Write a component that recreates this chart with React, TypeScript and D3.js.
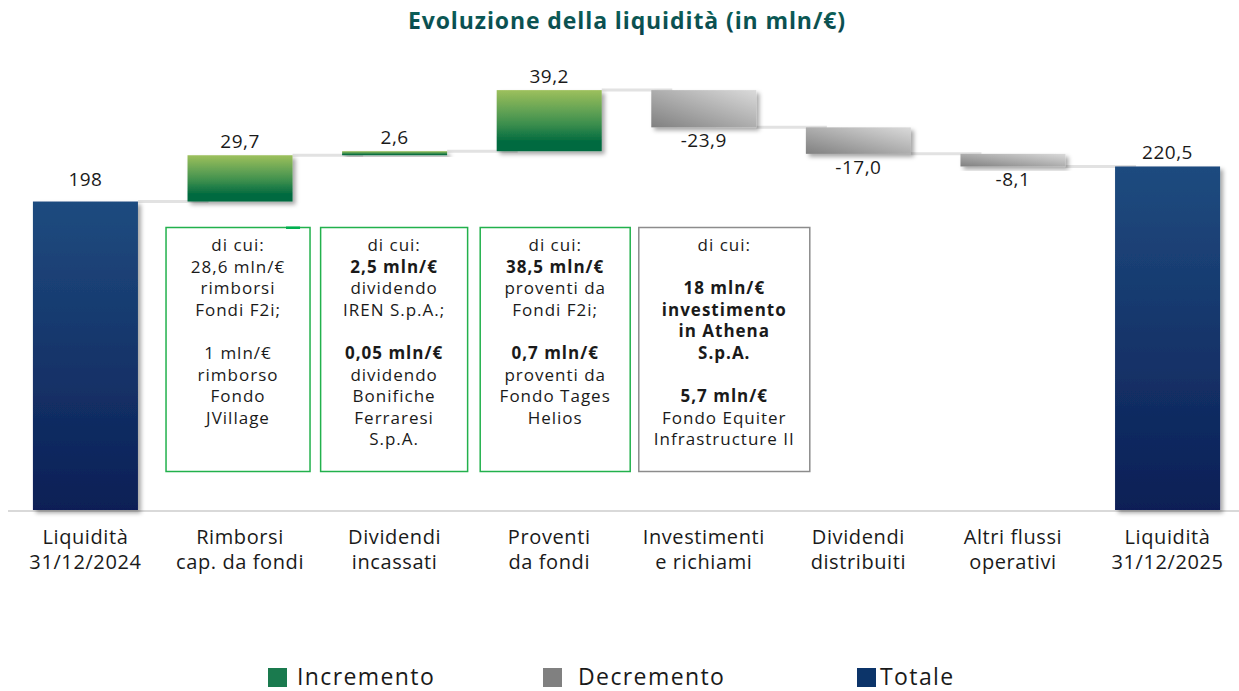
import React from "react";
import * as d3 from "d3";

const categories = [
  ["Liquidità", "31/12/2024"],
  ["Rimborsi", "cap. da fondi"],
  ["Dividendi", "incassati"],
  ["Proventi", "da fondi"],
  ["Investimenti", "e richiami"],
  ["Dividendi", "distribuiti"],
  ["Altri flussi", "operativi"],
  ["Liquidità", "31/12/2025"],
];
const values = [198, 29.7, 2.6, 39.2, -23.9, -17.0, -8.1, 220.5];
const kinds = ["total", "inc", "inc", "inc", "dec", "dec", "dec", "total"];
const valueLabels = ["198", "29,7", "2,6", "39,2", "-23,9", "-17,0", "-8,1", "220,5"];

type Line = { t: string; b?: boolean };
const notes: { idx: number; border: string; lines: Line[] }[] = [
  {
    idx: 1,
    border: "#22b14c",
    lines: [
      { t: "di cui:" }, { t: "28,6 mln/€" }, { t: "rimborsi" }, { t: "Fondi F2i;" }, { t: "" },
      { t: "1 mln/€" }, { t: "rimborso" }, { t: "Fondo" }, { t: "JVillage" },
    ],
  },
  {
    idx: 2,
    border: "#22b14c",
    lines: [
      { t: "di cui:" }, { t: "2,5 mln/€", b: true }, { t: "dividendo" }, { t: "IREN S.p.A.;" }, { t: "" },
      { t: "0,05 mln/€", b: true }, { t: "dividendo" }, { t: "Bonifiche" }, { t: "Ferraresi" }, { t: "S.p.A." },
    ],
  },
  {
    idx: 3,
    border: "#22b14c",
    lines: [
      { t: "di cui:" }, { t: "38,5 mln/€", b: true }, { t: "proventi da" }, { t: "Fondi F2i;" }, { t: "" },
      { t: "0,7 mln/€", b: true }, { t: "proventi da" }, { t: "Fondo Tages" }, { t: "Helios" },
    ],
  },
  {
    idx: 4,
    border: "#8c8c8c",
    lines: [
      { t: "di cui:" }, { t: "" }, { t: "18 mln/€", b: true }, { t: "investimento", b: true }, { t: "in Athena", b: true },
      { t: "S.p.A.", b: true }, { t: "" }, { t: "5,7 mln/€", b: true }, { t: "Fondo Equiter" }, { t: "Infrastructure II" },
    ],
  },
];
// box geometry offsets relative to band center: [left offset, width]
const noteBoxes: [number, number][] = [
  [-74, 144],
  [-74, 147],
  [-69, 150],
  [-65, 171],
];

const legendItems = [
  { label: "Incremento", color: "#1a7a4e" },
  { label: "Decremento", color: "#808080" },
  { label: "Totale", color: "#0c3469" },
];

const W = 1239;
const H = 691;
const FONT = "'Open Sans', 'Noto Sans', sans-serif";

export default function App() {
  const keys = categories.map((_, i) => String(i));
  const x = d3.scaleBand<string>().domain(keys).range([8.2, 1244.8]).paddingInner(0.3207).paddingOuter(0.16);
  const y = d3.scaleLinear().domain([0, 300]).range([510, 42.6]);

  let run = 0;
  const bars = values.map((v, i) => {
    let y0: number, y1: number;
    if (kinds[i] === "total") {
      y0 = 0;
      y1 = v;
      run = v;
    } else {
      y0 = run;
      y1 = run + v;
      run = y1;
    }
    return { i, v, y0, y1, end: run, kind: kinds[i] };
  });

  const fills: Record<string, string> = { inc: "url(#gInc)", dec: "url(#gDec)", total: "url(#gTot)" };
  const bw = x.bandwidth();

  return (
    <svg width={W} height={H} style={{ position: "absolute", left: 0, top: 0, background: "#fff" }} fontFamily={FONT}>
      <defs>
        <linearGradient id="gInc" x1="0" y1="0" x2="0" y2="1">
          <stop offset="0" stopColor="#9dc05c" />
          <stop offset="0.55" stopColor="#3d8f4e" />
          <stop offset="0.85" stopColor="#006a3f" />
          <stop offset="1" stopColor="#006a3f" />
        </linearGradient>
        <linearGradient id="gDec" x1="0" y1="1" x2="1" y2="0">
          <stop offset="0" stopColor="#808080" />
          <stop offset="1" stopColor="#dadada" />
        </linearGradient>
        <linearGradient id="gTot" x1="0" y1="0" x2="0" y2="1">
          <stop offset="0" stopColor="#1f4b7f" />
          <stop offset="1" stopColor="#0b1f56" />
        </linearGradient>
        <linearGradient id="gTitle" x1="0" y1="0" x2="0" y2="1">
          <stop offset="0" stopColor="#0d6b5c" />
          <stop offset="1" stopColor="#093f4a" />
        </linearGradient>
        <filter id="shadow" x="-10%" y="-10%" width="130%" height="140%">
          <feDropShadow dx="3" dy="3" stdDeviation="2" floodColor="#000" floodOpacity="0.35" />
        </filter>
      </defs>

      <text x={627} y={29} textAnchor="middle" fontWeight={700} fontSize={23} fill="url(#gTitle)" letterSpacing={0.9}>
        Evoluzione della liquidità (in mln/€)
      </text>

      {/* connectors */}
      {bars.slice(0, -1).map((b) => {
        const x1 = (x(String(b.i)) as number) + bw;
        const x2 = x(String(b.i + 1)) as number;
        return <line key={"c" + b.i} x1={x1} x2={x2 + bw * 0.2} y1={y(b.end)} y2={y(b.end)} stroke="#e2e2e2" strokeWidth={3} />;
      })}

      {/* axis baseline */}
      <line x1={8} x2={W} y1={y(0) + 1} y2={y(0) + 1} stroke="#d9d9d9" strokeWidth={2} />

      {/* bars */}
      {bars.map((b) => {
        const top = y(Math.max(b.y0, b.y1));
        const bot = y(Math.min(b.y0, b.y1));
        return (
          <rect
            key={"b" + b.i}
            x={x(String(b.i))}
            y={top}
            width={bw}
            height={Math.max(bot - top, 1)}
            fill={fills[b.kind]}
            filter="url(#shadow)"
          />
        );
      })}

      {/* value labels */}
      {bars.map((b) => {
        const cx = (x(String(b.i)) as number) + bw / 2;
        const isNeg = b.kind === "dec";
        const lift = b.i === 0 ? 16 : 7;
        const yy = isNeg ? y(Math.min(b.y0, b.y1)) + 20 : y(Math.max(b.y0, b.y1)) - lift;
        return (
          <text key={"v" + b.i} x={cx} y={yy} textAnchor="middle" fontSize={19} letterSpacing={0.5} fill="#1a1a1a">
            {valueLabels[b.i]}
          </text>
        );
      })}

      {/* category labels */}
      {categories.map((c, i) => {
        const cx = (x(String(i)) as number) + bw / 2;
        return (
          <text key={"k" + i} x={cx} textAnchor="middle" fontSize={20} letterSpacing={0.6} fill="#1a1a1a">
            <tspan x={cx} y={544}>{c[0]}</tspan>
            <tspan x={cx} y={569}>{c[1]}</tspan>
          </text>
        );
      })}

      {/* annotation boxes */}
      {notes.map((n, k) => {
        const cx = (x(String(n.idx)) as number) + bw / 2;
        const [off, w] = noteBoxes[k];
        const bx = cx + off;
        const tx = bx + w / 2;
        return (
          <g key={"n" + k}>
            <rect x={bx} y={227.5} width={w} height={244} fill="#fff" stroke={n.border} strokeWidth={1.5} />
            {k === 0 && <rect x={bx + w - 24} y={226.5} width={14} height={2.5} fill="#00b050" />}
            {n.lines.map((l, j) => (
              <text key={j} x={tx} y={251 + j * 21.6} textAnchor="middle" fontSize={17} letterSpacing={1} fontWeight={l.b ? 700 : 400} fill="#1a1a1a">
                {l.t}
              </text>
            ))}
          </g>
        );
      })}

      {/* legend */}
      {legendItems.map((it, i) => {
        const lx = [268, 543, 857][i];
        const tx = [297, 578, 880][i];
        return (
          <g key={"l" + i}>
            <rect x={lx} y={668} width={19} height={19} fill={it.color} />
            <text x={tx} y={685} fontSize={23} letterSpacing={1.4} fill="#1a1a1a">{it.label}</text>
          </g>
        );
      })}
    </svg>
  );
}
